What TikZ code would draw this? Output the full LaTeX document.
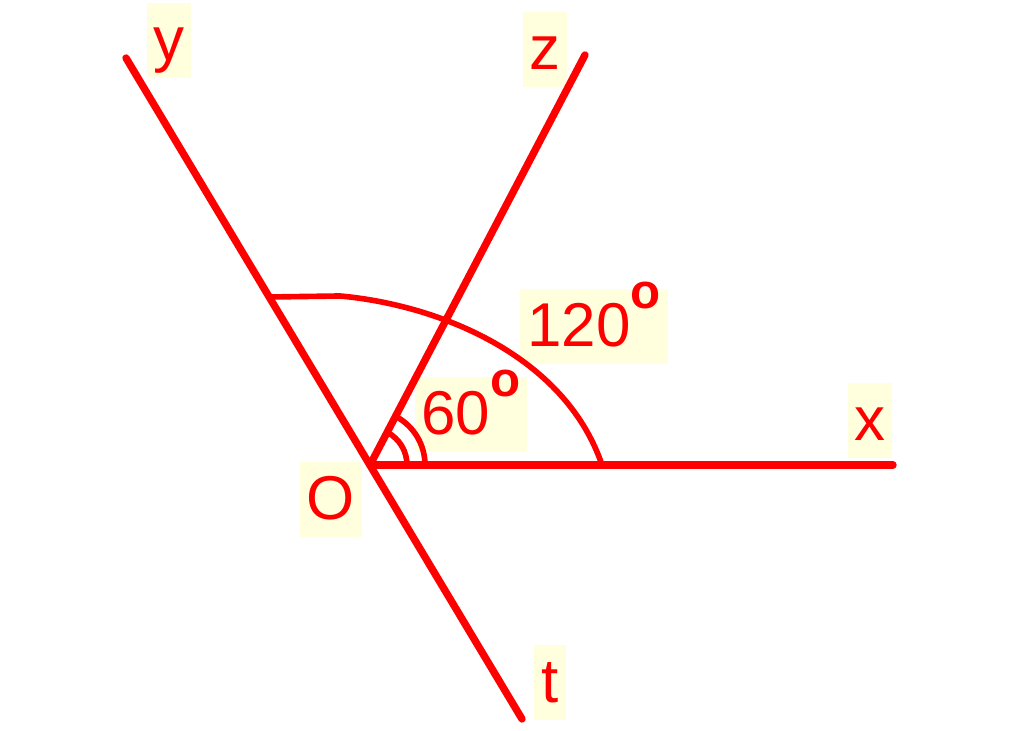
\documentclass[tikz,border=0pt]{standalone}
\usepackage{fontspec}
\setmainfont{Liberation Sans}
\definecolor{lblbg}{RGB}{255,255,222}
\newcommand{\degmark}{\raisebox{0.38cm}{\fontsize{14pt}{14pt}\selectfont\bfseries o}}
\tikzset{
    ray/.style={red, line width=2.1pt, line cap=round},
    mark arc/.style={red, line width=1.6pt},
    lbl/.style={fill=lblbg, text=red, anchor=base, inner xsep=0.07cm, inner ysep=0pt,
        text height=0.58cm, text depth=0.17cm, font=\fontsize{17.6pt}{20pt}\selectfont}
}

\begin{document}
\begin{tikzpicture}[x=0.01cm, y=0.01cm]
    \useasboundingbox (0,0) rectangle (1024,731);
    \coordinate (O) at (370,266);
    \coordinate (eX) at (893,266);
    \coordinate (eY) at (126,673);
    \coordinate (eZ) at (585,676);
    \coordinate (eT) at (522,12);
    \coordinate (aY) at (270,434);
    \coordinate (aX) at (602,266);
    \coordinate (mIn) at (407,266);
    \coordinate (mOut) at (425,266);

    \node[lbl] (lY) at (169,670) {y};
    \node[lbl] (lZ) at (545,661) {z};
    \node[lbl] (lX) at (870,290) {x};
    \node[lbl] (lO) at (331,211) {O};
    \node[lbl] (lT) at (550,28) {t};
    \node[lbl] (l120) at (594,384) {120\degmark};
    \node[lbl] (l60) at (471,296) {60\degmark};

    \draw[ray] (O) -- (eX);
    \draw[ray] (eY) -- (eT);
    \draw[ray] (O) -- (eZ);

    % big arc from Oy to Ox
    \draw[mark arc] (aY) -- (340,435) .. controls (440,426) and (565,375) .. (aX);
    % double mark for xOz
    \draw[mark arc] (mIn) arc[start angle=0, end angle=62, radius=37];
    \draw[mark arc] (mOut) arc[start angle=0, end angle=62, radius=55];
\end{tikzpicture}
\end{document}
